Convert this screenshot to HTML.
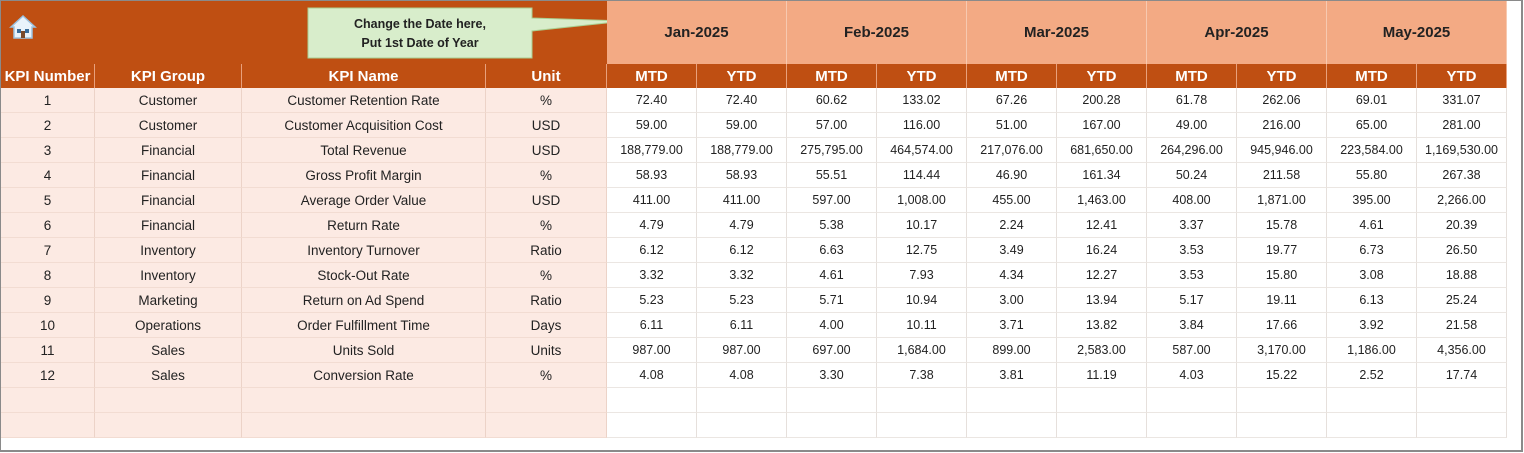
<!DOCTYPE html>
<html><head><meta charset="utf-8"><style>
body{margin:0;width:1524px;height:453px;overflow:hidden;background:#fff;font-family:"Liberation Sans",sans-serif;}
#frame{position:absolute;left:0;top:0;width:1520px;height:449px;border:2px solid #8a8a8a;border-top:1px solid #8a8a8a;border-left:1px solid #8a8a8a;}
.c{position:absolute;display:flex;align-items:center;justify-content:center;box-sizing:border-box;white-space:nowrap;}
.h{background:#BF4F12;color:#fff;font-weight:bold;font-size:15px;border-right:1px solid #e8a07c;}
.m{background:#F3AA84;color:#222;font-weight:bold;font-size:15px;border-right:1px solid #f7c9b0;}
.l{background:#FCEAE3;color:#222;font-size:13.5px;border-right:1px solid #ecd3c8;border-bottom:1px solid #f2dcd2;}
.r{background:#fff;color:#222;font-size:12.5px;border-right:1px solid #e6e0dc;border-bottom:1px solid #ebe6e2;}
</style></head><body>
<div class="c h" style="left:1px;top:1px;width:606px;height:63px;border:none"></div>
<svg style="position:absolute;left:9px;top:14px" width="28" height="26" viewBox="0 0 28 26"><path d="M14 2 L2 13 L5 13 L5 24 L23 24 L23 13 L26 13 Z" fill="#e9f3fb" stroke="#9cc3e0" stroke-width="1.5"/><rect x="8" y="15" width="4" height="4" fill="#3a6d9a"/><rect x="16" y="15" width="4" height="4" fill="#3a6d9a"/><rect x="12" y="17" width="4" height="7" fill="#7a4a2a"/></svg>
<svg style="position:absolute;left:300px;top:4px" width="330" height="60"><path d="M8 4 H232 V14 L325 17 L232 27 V54 H8 Z" fill="#D8EDCB" stroke="#a9cf90" stroke-width="1"/><text x="120" y="24" text-anchor="middle" font-family="Liberation Sans" font-weight="bold" font-size="12.5" fill="#222">Change the Date here,</text><text x="120" y="43" text-anchor="middle" font-family="Liberation Sans" font-weight="bold" font-size="12.5" fill="#222">Put 1st Date of Year</text></svg>
<div id="g"></div>
<div id="frame"></div>
<script>
var g=document.getElementById('g'),h='';
function c(cls,x,y,w,hh,t){h+='<div class="c '+cls+'" style="left:'+x+'px;top:'+y+'px;width:'+w+'px;height:'+hh+'px">'+t+'</div>';}
var months=['Jan-2025','Feb-2025','Mar-2025','Apr-2025','May-2025'];
for(var i=0;i<5;i++)c('m',607+180*i,1,180,63,months[i]);
var lx=[1,95,242,486,607],lab=['KPI Number','KPI Group','KPI Name','Unit'];
for(var i=0;i<4;i++)c('h',lx[i],64,lx[i+1]-lx[i],24,lab[i]);
for(var i=0;i<10;i++)c('h',607+90*i,64,90,24,i%2?'YTD':'MTD');
var d=[
['Customer','Customer Retention Rate','%','72.40','72.40','60.62','133.02','67.26','200.28','61.78','262.06','69.01','331.07'],
['Customer','Customer Acquisition Cost','USD','59.00','59.00','57.00','116.00','51.00','167.00','49.00','216.00','65.00','281.00'],
['Financial','Total Revenue','USD','188,779.00','188,779.00','275,795.00','464,574.00','217,076.00','681,650.00','264,296.00','945,946.00','223,584.00','1,169,530.00'],
['Financial','Gross Profit Margin','%','58.93','58.93','55.51','114.44','46.90','161.34','50.24','211.58','55.80','267.38'],
['Financial','Average Order Value','USD','411.00','411.00','597.00','1,008.00','455.00','1,463.00','408.00','1,871.00','395.00','2,266.00'],
['Financial','Return Rate','%','4.79','4.79','5.38','10.17','2.24','12.41','3.37','15.78','4.61','20.39'],
['Inventory','Inventory Turnover','Ratio','6.12','6.12','6.63','12.75','3.49','16.24','3.53','19.77','6.73','26.50'],
['Inventory','Stock-Out Rate','%','3.32','3.32','4.61','7.93','4.34','12.27','3.53','15.80','3.08','18.88'],
['Marketing','Return on Ad Spend','Ratio','5.23','5.23','5.71','10.94','3.00','13.94','5.17','19.11','6.13','25.24'],
['Operations','Order Fulfillment Time','Days','6.11','6.11','4.00','10.11','3.71','13.82','3.84','17.66','3.92','21.58'],
['Sales','Units Sold','Units','987.00','987.00','697.00','1,684.00','899.00','2,583.00','587.00','3,170.00','1,186.00','4,356.00'],
['Sales','Conversion Rate','%','4.08','4.08','3.30','7.38','3.81','11.19','4.03','15.22','2.52','17.74']];
for(var r=0;r<14;r++){var y=88+25*r,row=d[r];
 for(var i=0;i<4;i++)c('l',lx[i],y,lx[i+1]-lx[i],25,row?(i==0?r+1:row[i-1]):'');
 for(var i=0;i<10;i++)c('r',607+90*i,y,90,25,row?row[i+3]:'');}
g.innerHTML=h;
</script>
</body></html>
